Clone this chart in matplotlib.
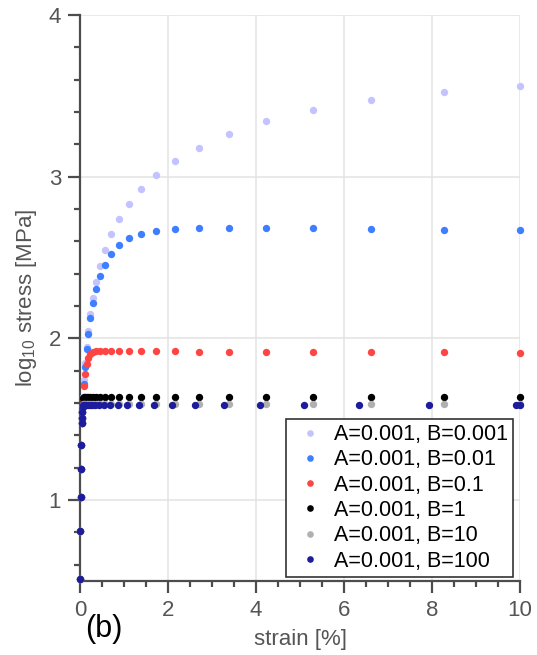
import matplotlib
matplotlib.use('Agg')
import matplotlib.pyplot as plt
from matplotlib.ticker import MultipleLocator

plt.rcParams['font.family'] = ['Liberation Sans', 'DejaVu Sans']
plt.rcParams['mathtext.default'] = 'regular'

# elastic branch, shared by every run
strain_el = [0.005, 0.010, 0.016, 0.024, 0.034, 0.046, 0.050, 0.054]
logs_el = [0.51, 0.81, 1.02, 1.19, 1.34, 1.475, 1.51, 1.547]

# strain steps of the runs B=0.001 ... B=10
strain_ab = [0.061, 0.076, 0.095, 0.119, 0.149, 0.186, 0.233, 0.291, 0.363, 0.454,
             0.568, 0.71, 0.887, 1.11, 1.39, 1.73, 2.17, 2.71, 3.39, 4.23,
             5.29, 6.61, 8.27, 10.0]

# strain steps of the run B=100
strain_b100 = [0.059, 0.074, 0.092, 0.115, 0.144, 0.18, 0.225, 0.28, 0.35, 0.44,
               0.55, 0.69, 0.86, 1.07, 1.34, 1.68, 2.10, 2.62, 3.27, 4.08,
               5.09, 6.35, 7.93, 9.9, 10.0]

logs_b0001 = [1.58, 1.64, 1.74, 1.845, 1.949, 2.048, 2.151, 2.252, 2.35, 2.45,
              2.547, 2.644, 2.737, 2.831, 2.922, 3.012, 3.099, 3.18, 3.265, 3.343,
              3.41, 3.472, 3.524, 3.559]
logs_b001 = [1.58, 1.63, 1.72, 1.825, 1.933, 2.029, 2.124, 2.217, 2.304, 2.384,
             2.456, 2.522, 2.576, 2.619, 2.648, 2.666, 2.675, 2.68, 2.683, 2.681,
             2.681, 2.677, 2.672, 2.670]
logs_b01 = [1.58, 1.62, 1.705, 1.782, 1.84, 1.877, 1.904, 1.916, 1.92, 1.921,
            1.921, 1.921, 1.921, 1.92, 1.92, 1.92, 1.92, 1.919, 1.919, 1.918,
            1.918, 1.916, 1.913, 1.912]
logs_b1 = [1.60, 1.632, 1.637, 1.638, 1.639, 1.639, 1.64, 1.64, 1.64, 1.64,
           1.64, 1.64, 1.64, 1.64, 1.64, 1.64, 1.64, 1.639, 1.639, 1.638,
           1.638, 1.638, 1.637, 1.637]
logs_b10 = [1.585, 1.592, 1.594, 1.594, 1.594, 1.594, 1.594, 1.594, 1.594, 1.594,
            1.594, 1.594, 1.594, 1.594, 1.594, 1.594, 1.594, 1.594, 1.594, 1.594,
            1.594, 1.594, 1.594, 1.594]
logs_b100 = [1.575, 1.586, 1.589, 1.59, 1.59, 1.59, 1.59, 1.59, 1.59, 1.59,
             1.59, 1.59, 1.59, 1.59, 1.59, 1.59, 1.59, 1.59, 1.59, 1.59,
             1.59, 1.59, 1.59, 1.59, 1.59]

labels = ['A=0.001, B=0.001', 'A=0.001, B=0.01', 'A=0.001, B=0.1',
          'A=0.001, B=1', 'A=0.001, B=10', 'A=0.001, B=100']
colors = ['#c3c3ff', '#3d7fff', '#ff4444', '#000000', '#b0b0b0', '#1c1c9c']

series = [
    (strain_ab, logs_b0001),
    (strain_ab, logs_b001),
    (strain_ab, logs_b01),
    (strain_ab, logs_b1),
    (strain_ab, logs_b10),
    (strain_b100, logs_b100),
]

axis_grey = '#555555'

fig = plt.figure(figsize=(5.37, 6.55), dpi=100)
ax = fig.add_axes([80 / 537, 1 - 581 / 655, 440 / 537, 566 / 655])

for (xs, ys), label, color in zip(series, labels, colors):
    ax.plot(strain_el + xs, logs_el + ys, linestyle='none', marker='o',
            markersize=5.3, markeredgewidth=0, color=color, label=label,
            clip_on=False, zorder=3)

ax.set_xlim(0, 10)
ax.set_ylim(0.5, 4)
ax.xaxis.set_major_locator(MultipleLocator(2))
ax.xaxis.set_minor_locator(MultipleLocator(0.5))
ax.yaxis.set_major_locator(MultipleLocator(1))
ax.yaxis.set_minor_locator(MultipleLocator(0.2))

ax.grid(True, which='major', color='#e3e3e3', linewidth=1.1, zorder=0)
ax.set_axisbelow(True)

for side in ('top', 'right'):
    ax.spines[side].set_visible(False)
for side in ('left', 'bottom'):
    ax.spines[side].set_color('#4d4d4d')
    ax.spines[side].set_linewidth(1.6)

ax.tick_params(which='major', direction='out', length=8.5, width=1.6,
               color='#4d4d4d', labelsize=16, labelcolor=axis_grey, pad=5)
ax.tick_params(which='minor', direction='out', length=4.5, width=1.6,
               color='#4d4d4d')

ax.set_xlabel('strain [%]', fontsize=16, color=axis_grey, labelpad=6)
ax.set_ylabel('log$_{10}$ stress [MPa]', fontsize=16, color=axis_grey, labelpad=7)

leg = ax.legend(loc='lower right', bbox_to_anchor=(433 / 440, 4 / 566),
                borderaxespad=0, fontsize=15.5, markerscale=0.9,
                handlelength=1.7, handletextpad=0.25, labelspacing=0.2,
                borderpad=0.25, fancybox=False, framealpha=1)
leg.get_frame().set_edgecolor('#333333')
leg.get_frame().set_linewidth(1.2)

fig.text(104 / 537, 1 - 629 / 655, '(b)', fontsize=22, ha='center', va='center')

fig.savefig('out.png', dpi=100)
